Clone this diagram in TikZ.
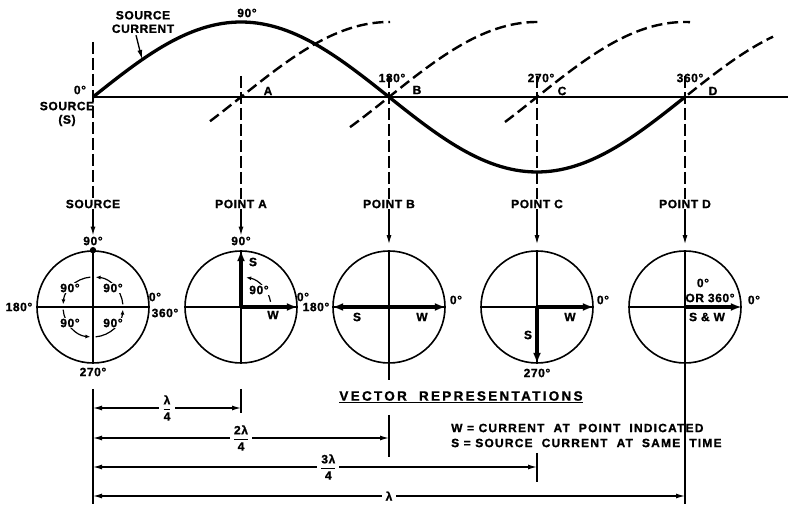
\documentclass[tikz,border=0pt]{standalone}
\usepackage{fontspec}
\setmainfont{Liberation Sans}[LetterSpace=5, FakeBold=1.2]
\usetikzlibrary{arrows.meta,calc,positioning}

\begin{document}
\begin{tikzpicture}[
    x=1pt, y=1pt,
    >=Latex,
    font=\fontsize{12}{13.5}\selectfont\bfseries,
    lbl/.style={inner sep=1pt},
    blank/.style={inner sep=1pt, fill=white},
    ring/.style={draw, circle, line width=1.6pt, minimum size=112pt, inner sep=0pt},
    axis/.style={line width=1.3pt},
    vec/.style={-{Latex[length=11pt,width=8pt]}, line width=4pt},
    ptr/.style={-{Latex[length=9pt,width=5pt]}, line width=1.3pt},
    turn/.style={-{Latex[length=5pt,width=4pt]}, line width=1.2pt},
    guide/.style={dash pattern=on 12pt off 4pt, line width=1.4pt},
    wave/.style={line width=3.3pt},
    ghost/.style={dash pattern=on 11pt off 5pt, line width=2.4pt},
    dim/.style={{Latex[length=9pt,width=5pt]}-{Latex[length=9pt,width=5pt]}, line width=1.3pt},
    frac/.style={fill=white, inner sep=3pt},
    keytext/.style={inner sep=1pt, anchor=west,
      font=\fontsize{12}{14}\selectfont\bfseries\addfontfeature{LetterSpace=10}},
  ]
  \useasboundingbox (0,0) rectangle (788,506);

  % source current and the shifted copies
  \coordinate (s0) at (93,409);
  \coordinate (axR) at (788,409);
  \draw[axis] (s0) -- (axR);
  \draw[wave] plot[domain=93:685, samples=120] (\x, {409+75*sin((\x-93)/148*90)});
  \foreach \xc/\xa/\xb in {241/210/390, 389/350/538, 537/505/690, 685/688/773}
    \draw[ghost] plot[domain=\xa:\xb, samples=60] (\x, {409+75*sin((\x-\xc)/148*90)});

  \node[lbl, align=center] (srcCur) at (143,484) {SOURCE\\CURRENT};
  \coordinate (onWave) at (142,447);
  \draw[ptr] ($(srcCur.south)+(-7,-1)$) -- (onWave);

  \node[lbl] (t90) at (247,493) {90°};
  \node[lbl] (t0) at (80,416) {0°};
  \node[lbl, align=center] (tSrc) at (67,392) {SOURCE\\(S)};
  \node[lbl] (tA) at (268,415) {A};
  \node[lbl] (tB) at (417,416) {B};
  \node[lbl] (tC) at (562,415) {C};
  \node[lbl] (tD) at (713,415) {D};
  \node[lbl] (t180) at (392,428) {180°};
  \node[lbl] (t270) at (541,428) {270°};
  \node[lbl] (t360) at (690,428) {360°};

  % point labels and guide lines
  \foreach \n/\x/\t in {S/93/SOURCE, A/241/POINT A, B/389/POINT B, C/537/POINT C, D/685/POINT D}
    \node[lbl] (l\n) at (\x,302) {\t};
  \coordinate (gS) at (93,464);
  \coordinate (gA) at (241,430);
  \coordinate (gB) at (389,430);
  \coordinate (gC) at (537,430);
  \coordinate (gD) at (685,430);
  \foreach \n in {S,A,B,C,D}
    \draw[guide] (g\n) -- (l\n.north);

  % vector circles
  \foreach \n/\x in {S/93, A/241, B/389, C/537, D/685}
    \node[ring] (c\n) at (\x,199) {};
  \foreach \n in {S,A,B,C}
    \draw[axis] (c\n.north) -- (c\n.south) (c\n.west) -- (c\n.east);
  \draw[axis] (cD.north) -- (cD.south) (cD.west) -- (cD.center);

  \node[lbl] (dS) at (93,265) {90°};
  \node[lbl] (dA) at (241,265) {90°};
  \draw[ptr] (lS.south) -- (dS.north);
  \draw[ptr] (lA.south) -- (dA.north);
  \foreach \n in {B,C,D}
    \draw[ptr, shorten >=6pt] (l\n.south) -- (c\n.north);

  % source
  \fill (cS.north) circle (3.2pt);
  \foreach \k [evaluate=\k as \sa using 5+90*\k, evaluate=\k as \ea using 85+90*\k] in {0,1,2,3}
    \draw[turn] ([shift={(\sa:30)}]cS.center) arc[start angle=\sa, end angle=\ea, radius=30];
  \node[blank] (qA) at (70,218) {90°};
  \node[blank] (qB) at (113,218) {90°};
  \node[blank] (qC) at (70,183) {90°};
  \node[blank] (qD) at (113,183) {90°};
  \node[lbl] (wS) at (19,199) {180°};
  \node[lbl] (eS) at (155,209) {0°};
  \node[lbl] (eS2) at (165,193) {360°};
  \node[lbl] (bS) at (93,134) {270°};

  % point A
  \draw[vec] (cA.center) -- (cA.north);
  \draw[vec] (cA.center) -- (cA.east);
  \draw[turn] ([shift={(10:30)}]cA.center) arc[start angle=10, end angle=80, radius=30];
  \node[blank] (angA) at (259,216) {90°};
  \node[lbl] (sA) at (253,244) {S};
  \node[lbl] (wA) at (273,191) {W};
  \node[lbl] (eA) at (303,209) {0°};

  % point B
  \draw[vec] (cB.center) -- (cB.east);
  \draw[vec] (cB.center) -- (cB.west);
  \node[lbl] (wB) at (316,199) {180°};
  \node[lbl] (eB) at (456,206) {0°};
  \node[lbl] (sB) at (357,189) {S};
  \node[lbl] (vB) at (422,189) {W};

  % point C
  \draw[vec] (cC.center) -- (cC.east);
  \draw[vec] (cC.center) -- (cC.south);
  \node[lbl] (eC) at (603,206) {0°};
  \node[lbl] (vC) at (570,189) {W};
  \node[lbl] (sC) at (528,171) {S};
  \node[lbl] (bC) at (537,133) {270°};

  % point D
  \draw[vec] (cD.center) -- (cD.east);
  \node[lbl] (zD) at (703,223) {0°};
  \node[lbl] (orD) at (710,208) {OR 360°};
  \node[lbl] (swD) at (707,189) {S \& W};
  \node[lbl] (eD) at (754,206) {0°};

  % distances
  \coordinate (vS) at (93,117);
  \coordinate (vSb) at (93,2);
  \coordinate (vA) at (241,117);
  \coordinate (vAb) at (241,93);
  \coordinate (vB) at (389,126);
  \coordinate (vB2) at (389,91);
  \coordinate (vBb) at (389,49);
  \coordinate (vC) at (537,53);
  \coordinate (vCb) at (537,24);
  \coordinate (vDb) at (685,2);
  \draw[axis] (vS) -- (vSb);
  \draw[axis] (vA) -- (vAb);
  \draw[axis] (cB.south) -- (vB) (vB2) -- (vBb);
  \draw[axis] (vC) -- (vCb);
  \draw[axis] (cD.south) -- (vDb);

  \coordinate (q1) at (93,98);
  \coordinate (q1e) at (241,98);
  \coordinate (q2) at (93,68);
  \coordinate (q2e) at (389,68);
  \coordinate (q3) at (93,39);
  \coordinate (q3e) at (537,39);
  \coordinate (q4) at (93,10);
  \coordinate (q4e) at (685,10);
  \draw[dim] (q1) -- node[frac] {$\displaystyle\frac{\mbox{λ}}{\mbox{4}}$} (q1e);
  \draw[dim] (q2) -- node[frac] {$\displaystyle\frac{\mbox{2λ}}{\mbox{4}}$} (q2e);
  \draw[dim] (q3) -- node[frac, pos=0.53] {$\displaystyle\frac{\mbox{3λ}}{\mbox{4}}$} (q3e);
  \draw[dim] (q4) -- node[frac, inner sep=4pt] {λ} (q4e);

  % legend
  \node[lbl, font=\fontsize{13.5}{15}\selectfont\bfseries\addfontfeature{LetterSpace=17}] (vecRep) at (461,109)
    {\underline{VECTOR\ \ REPRESENTATIONS}};
  \node[keytext] (keyW) at (450,78) {W = CURRENT\ \ AT\ \ POINT\ \ INDICATED};
  \node[keytext] (keyS) at ($(keyW.west)+(0,-15)$) {S = SOURCE\ \ CURRENT\ \ AT\ \ SAME\ \ TIME};
\end{tikzpicture}
\end{document}
